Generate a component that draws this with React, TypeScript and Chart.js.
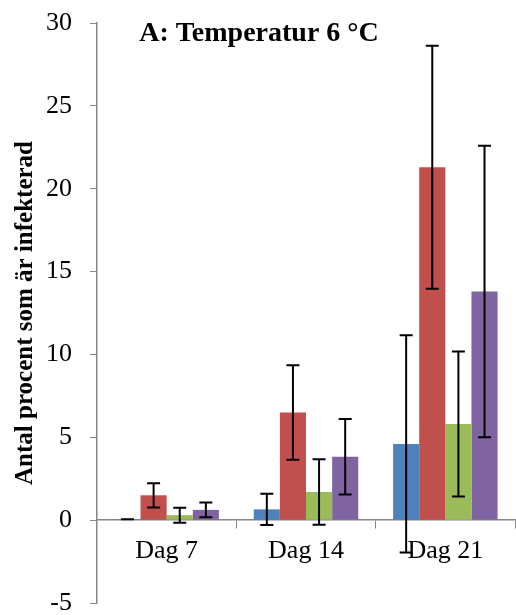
import React, { useEffect, useRef } from "react";
import { Chart, registerables } from "chart.js";

Chart.register(...registerables);

const categories = ["Dag 7", "Dag 14", "Dag 21"];
const seriesNames = ["Serie 1", "Serie 2", "Serie 3", "Serie 4"];
const blueValues = [0.05, 0.65, 4.6];
const redValues = [1.5, 6.5, 21.3];
const greenValues = [0.3, 1.7, 5.8];
const purpleValues = [0.62, 3.82, 13.8];
const blueErrors = [0, 0.95, 6.55];
const redErrors = [0.73, 2.85, 7.33];
const greenErrors = [0.45, 1.98, 4.37];
const purpleErrors = [0.45, 2.28, 8.8];
const yTicks = [-5, 0, 5, 10, 15, 20, 25, 30];
const chartTitle = "A: Temperatur 6 °C";
const yTitle = "Antal procent som är infekterad";

const colors = ["#4F81BD", "#C0504D", "#9BBB59", "#8064A2"];
const allValues = [blueValues, redValues, greenValues, purpleValues];
const allErrors = [blueErrors, redErrors, greenErrors, purpleErrors];

const errorBarPlugin = {
  id: "errorBars",
  afterDatasetsDraw(chart: any) {
    const ctx = chart.ctx;
    const yScale = chart.scales.y;
    ctx.save();
    ctx.strokeStyle = "#000";
    ctx.lineWidth = 2;
    chart.data.datasets.forEach((ds: any, i: number) => {
      const meta = chart.getDatasetMeta(i);
      meta.data.forEach((el: any, j: number) => {
        const v = ds.data[j];
        const e = ds.errors[j];
        const x = el.x;
        const yt = yScale.getPixelForValue(v + e);
        const yb = yScale.getPixelForValue(v - e);
        const cap = 6.5;
        ctx.beginPath();
        ctx.moveTo(x, yt);
        ctx.lineTo(x, yb);
        ctx.moveTo(x - cap, yt);
        ctx.lineTo(x + cap, yt);
        ctx.moveTo(x - cap, yb);
        ctx.lineTo(x + cap, yb);
        ctx.stroke();
      });
    });
    ctx.restore();
  },
};

const titlePlugin = {
  id: "overlayTitle",
  afterDraw(chart: any) {
    const ctx = chart.ctx;
    ctx.save();
    ctx.fillStyle = "#000";
    ctx.font = "bold 28px 'Liberation Serif', 'Times New Roman', serif";
    ctx.textAlign = "center";
    ctx.textBaseline = "middle";
    ctx.fillText(chartTitle, 259, 34);
    ctx.restore();
  },
};

export default function App() {
  const ref = useRef<HTMLCanvasElement>(null);
  useEffect(() => {
    document.body.style.margin = "0";
    const serif = "'Liberation Serif', 'Times New Roman', serif";
    const chart = new Chart(ref.current!, {
      type: "bar",
      data: {
        labels: categories,
        datasets: allValues.map((vals, i) => ({
          label: seriesNames[i],
          data: vals,
          errors: allErrors[i],
          backgroundColor: colors[i],
          borderWidth: 0,
          categoryPercentage: 0.75,
          barPercentage: 1.0,
        })) as any,
      },
      options: {
        responsive: false,
        animation: false,
        layout: { padding: { top: 23, bottom: 12, left: 0, right: 1 } },
        plugins: {
          legend: { display: false },
          tooltip: { enabled: false },
          title: { display: false },
        },
        scales: {
          x: {
            position: { y: 0 } as any,
            grid: {
              display: true,
              drawOnChartArea: false,
              drawTicks: true,
              tickLength: 8,
              color: "#868686",
              offset: true,
            },
            border: { display: true, color: "#868686", width: 1.5 },
            ticks: {
              color: "#000",
              font: { family: serif, size: 26 },
              padding: 7,
            },
          },
          y: {
            min: -5,
            max: 30,
            afterFit: (scale: any) => {
              scale.width = 97;
              scale.paddingTop = 10;
              scale.paddingBottom = 10;
            },
            afterBuildTicks: (scale: any) => {
              scale.ticks = yTicks.map((v) => ({ value: v }));
            },
            grid: {
              display: true,
              drawOnChartArea: false,
              drawTicks: true,
              tickLength: 7,
              color: "#868686",
            },
            border: { display: true, color: "#868686", width: 1.5 },
            ticks: {
              color: "#000",
              font: { family: serif, size: 26 },
              padding: 18,
            },
            title: {
              display: true,
              text: yTitle,
              color: "#000",
              font: { family: serif, size: 25, weight: "bold" },
              padding: { top: 11, bottom: 0 },
            },
          },
        },
      },
      plugins: [errorBarPlugin, titlePlugin],
    });
    return () => chart.destroy();
  }, []);
  return (
    <div style={{ width: 516, height: 615 }}>
      <canvas ref={ref} width={516} height={615} />
    </div>
  );
}
